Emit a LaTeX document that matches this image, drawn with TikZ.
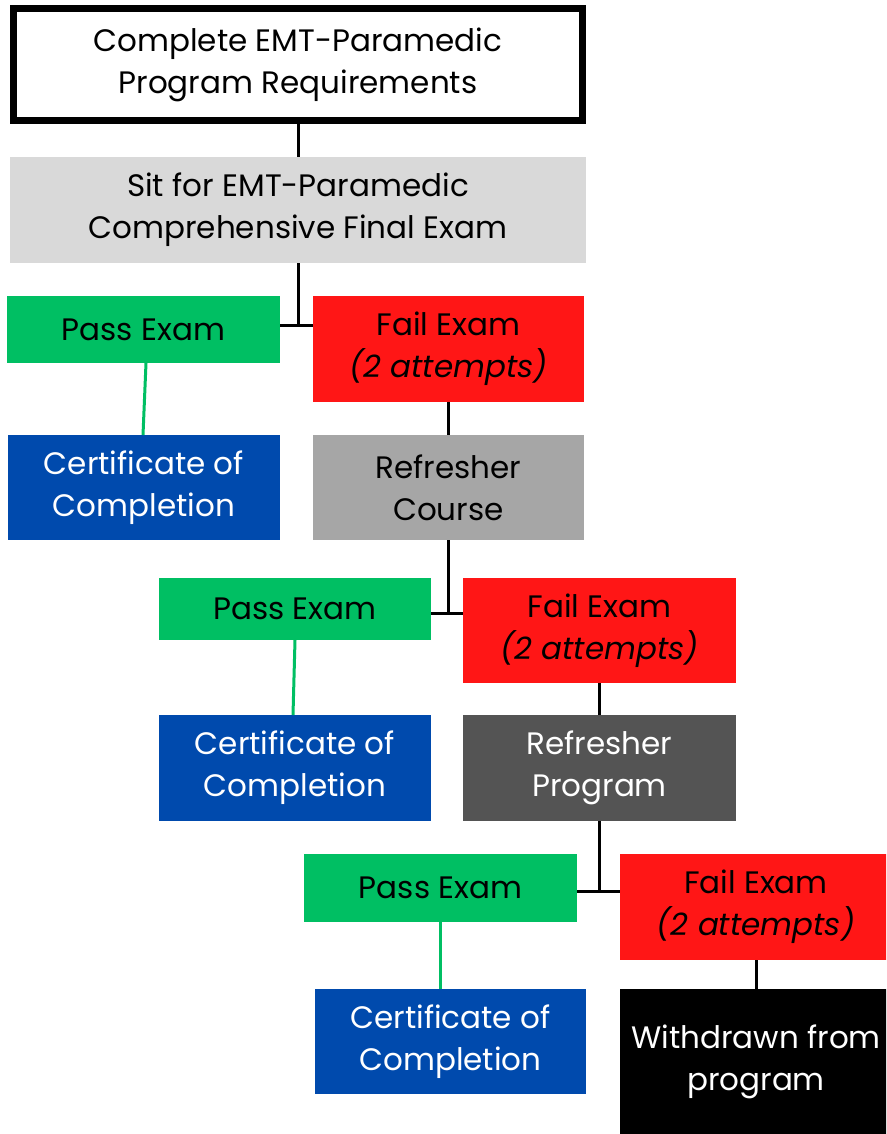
\documentclass[tikz,border=0pt]{standalone}
\usepackage{fontspec}
\setmainfont{Poppins}
\definecolor{cgreen}{HTML}{00BF63}
\definecolor{cred}{HTML}{FF1616}
\definecolor{cblue}{HTML}{004AAD}
\definecolor{clight}{HTML}{D9D9D9}
\definecolor{cmid}{HTML}{A6A6A6}
\definecolor{cdark}{HTML}{545454}
\begin{document}
\begin{tikzpicture}[x=1pt,y=-1pt,
  box/.style={inner sep=0pt, outer sep=0pt, align=center, draw=none,
    font=\fontsize{31}{42}\selectfont},
  conn/.style={line width=3pt, black},
  gconn/.style={line width=3pt, cgreen}]
\useasboundingbox (0,0) rectangle (886,1134);
\clip (0,0) rectangle (886,1134);
\fill[white] (0,0) rectangle (886,1134);
% nodes
\node[box, draw=black, line width=7pt, minimum width=569pt, minimum height=112pt] (top) at (298,64.5) {Complete EMT-Paramedic\\Program Requirements};
\node[box, fill=clight, minimum width=576pt, minimum height=106pt] (sit) at (298,210) {Sit for EMT-Paramedic\\Comprehensive Final Exam};
\node[box, fill=cgreen, minimum width=273pt, minimum height=67pt] (pass1) at (143.5,329.5) {Pass Exam};
\node[box, fill=cred, minimum width=271pt, minimum height=106pt] (fail1) at (448.5,349) {Fail Exam\\\textit{(2 attempts)}};
\node[box, fill=cblue, text=white, minimum width=272pt, minimum height=105pt] (cert1) at (144,487.5) {Certificate of\\Completion};
\node[box, fill=cmid, minimum width=271pt, minimum height=105pt] (ref1) at (448.5,487.5) {Refresher\\Course};
\node[box, fill=cgreen, minimum width=272pt, minimum height=62pt] (pass2) at (295,609) {Pass Exam};
\node[box, fill=cred, minimum width=273pt, minimum height=105pt] (fail2) at (599.5,630.5) {Fail Exam\\\textit{(2 attempts)}};
\node[box, fill=cblue, text=white, minimum width=272pt, minimum height=106pt] (cert2) at (295,768) {Certificate of\\Completion};
\node[box, fill=cdark, text=white, minimum width=273pt, minimum height=106pt] (ref2) at (599.5,768) {Refresher\\Program};
\node[box, fill=cgreen, minimum width=273pt, minimum height=68pt] (pass3) at (440.5,888) {Pass Exam};
\node[box, fill=cred, minimum width=272pt, minimum height=106pt] (fail3) at (756,907) {Fail Exam\\\textit{(2 attempts)}};
\node[box, fill=cblue, text=white, minimum width=271pt, minimum height=105pt] (cert3) at (450.5,1041.5) {Certificate of\\Completion};
\node[box, fill=black, text=white, minimum width=272pt, minimum height=145pt] (wd) at (756,1061.5) {Withdrawn from\\program};
% junctions
\coordinate (j1) at (297,325);
\coordinate (j2) at (449,613);
\coordinate (j3) at (598,891);
% connectors
\draw[conn] (top.south) -- (sit.north);
\draw[conn] (sit.south) -- (sit.south |- j1);
\draw[conn] (pass1.east |- j1) -- (fail1.west |- j1);
\draw[gconn] ([xshift=2.5pt]pass1.south) -- ([xshift=-1pt]cert1.north);
\draw[conn] (fail1.south) -- (ref1.north);
\draw[conn] (ref1.south) -- (ref1.south |- j2);
\draw[conn] (pass2.east |- j2) -- (fail2.west |- j2);
\draw[gconn] (pass2.south) -- ([xshift=-2pt]cert2.north);
\draw[conn] (fail2.south) -- (ref2.north);
\draw[conn] (ref2.south) -- (ref2.south |- j3);
\draw[conn] (pass3.east |- j3) -- (fail3.west |- j3);
\draw[gconn] (pass3.south) -- (pass3.south |- cert3.north);
\draw[conn] (fail3.south) -- (wd.north);
\end{tikzpicture}
\end{document}
